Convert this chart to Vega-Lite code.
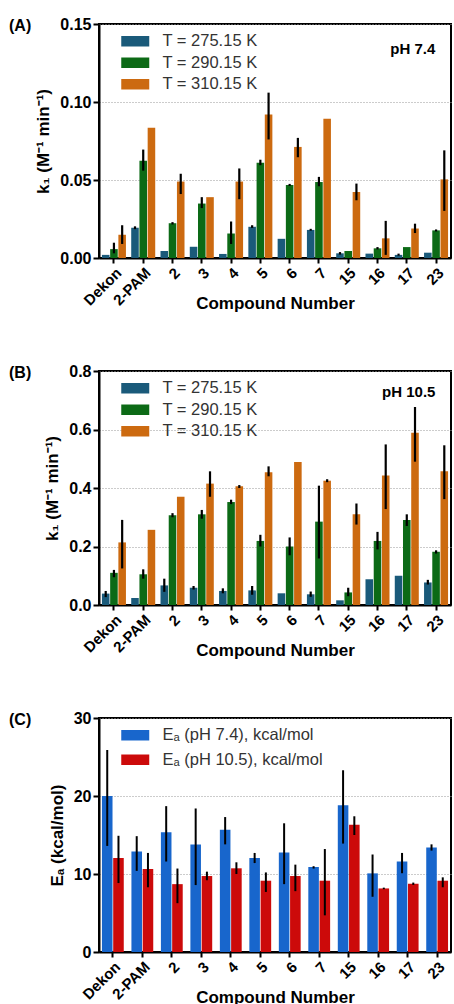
{
  "$schema": "https://vega.github.io/schema/vega-lite/v6.json",
  "padding": {"left": 8, "top": 15, "right": 0, "bottom": 0},
  "background": "white",
  "spacing": 49,
  "config": {
    "font": "Liberation Sans",
    "view": {"stroke": "black", "strokeWidth": 2},
    "axis": {
      "domainColor": "black", "domainWidth": 2, "tickColor": "black", "tickWidth": 2,
      "labelColor": "black", "titleColor": "black",
      "labelFont": "Liberation Sans", "titleFont": "Liberation Sans",
      "labelFontWeight": "bold", "titleFontWeight": "bold"
    },
    "axisX": {"labelAngle": -45, "labelFontSize": 15, "titleFontSize": 17, "tickSize": 5, "labelPadding": 2, "titlePadding": -13, "grid": false},
    "axisY": {"labelFontSize": 16, "titleFontSize": 17, "titlePadding": 7, "labelPadding": 2, "grid": true, "gridDash": [1, 2], "gridColor": "#999999", "gridWidth": 1},
    "legend": {
      "title": null, "orient": "none", "legendX": 28, "legendY": 9, "padding": 0,
      "symbolType": "M-2,-0.75H2V0.75H-2Z", "symbolSize": 196, "symbolStrokeWidth": 0,
      "labelFontSize": 16.5, "labelFont": "Liberation Sans", "labelFontWeight": "normal",
      "labelOffset": 19, "rowPadding": 4.5, "labelColor": "#333333", "labelLimit": 400
    },
    "title": {"anchor": "start", "frame": "group", "dx": -90, "offset": -18, "fontSize": 16, "fontWeight": "bold", "font": "Liberation Sans", "color": "black"}
  },
  "datasets": {
    "A": [
      {"c": "Dekon", "s": "T = 275.15 K", "v": 0.002, "lo": null, "hi": null},
      {"c": "Dekon", "s": "T = 290.15 K", "v": 0.0057, "lo": 0.003, "hi": 0.0098},
      {"c": "Dekon", "s": "T = 310.15 K", "v": 0.0149, "lo": 0.009, "hi": 0.021},
      {"c": "2-PAM", "s": "T = 275.15 K", "v": 0.0194, "lo": 0.0185, "hi": 0.0203},
      {"c": "2-PAM", "s": "T = 290.15 K", "v": 0.0624, "lo": 0.056, "hi": 0.0695},
      {"c": "2-PAM", "s": "T = 310.15 K", "v": 0.0835, "lo": null, "hi": null},
      {"c": "2", "s": "T = 275.15 K", "v": 0.0045, "lo": null, "hi": null},
      {"c": "2", "s": "T = 290.15 K", "v": 0.0223, "lo": 0.0215, "hi": 0.023},
      {"c": "2", "s": "T = 310.15 K", "v": 0.049, "lo": 0.041, "hi": 0.054},
      {"c": "3", "s": "T = 275.15 K", "v": 0.0072, "lo": null, "hi": null},
      {"c": "3", "s": "T = 290.15 K", "v": 0.0349, "lo": 0.032, "hi": 0.039},
      {"c": "3", "s": "T = 310.15 K", "v": 0.039, "lo": null, "hi": null},
      {"c": "4", "s": "T = 275.15 K", "v": 0.0026, "lo": null, "hi": null},
      {"c": "4", "s": "T = 290.15 K", "v": 0.0157, "lo": 0.009, "hi": 0.0234},
      {"c": "4", "s": "T = 310.15 K", "v": 0.049, "lo": 0.0377, "hi": 0.0574},
      {"c": "5", "s": "T = 275.15 K", "v": 0.02, "lo": 0.0193, "hi": 0.021},
      {"c": "5", "s": "T = 290.15 K", "v": 0.061, "lo": 0.0595, "hi": 0.063},
      {"c": "5", "s": "T = 310.15 K", "v": 0.092, "lo": 0.076, "hi": 0.106},
      {"c": "6", "s": "T = 275.15 K", "v": 0.0123, "lo": null, "hi": null},
      {"c": "6", "s": "T = 290.15 K", "v": 0.0468, "lo": 0.0462, "hi": 0.0475},
      {"c": "6", "s": "T = 310.15 K", "v": 0.0712, "lo": 0.0646, "hi": 0.077},
      {"c": "7", "s": "T = 275.15 K", "v": 0.018, "lo": 0.0175, "hi": 0.0187},
      {"c": "7", "s": "T = 290.15 K", "v": 0.0487, "lo": 0.046, "hi": 0.052},
      {"c": "7", "s": "T = 310.15 K", "v": 0.0893, "lo": null, "hi": null},
      {"c": "15", "s": "T = 275.15 K", "v": 0.003, "lo": 0.0022, "hi": 0.0038},
      {"c": "15", "s": "T = 290.15 K", "v": 0.0045, "lo": null, "hi": null},
      {"c": "15", "s": "T = 310.15 K", "v": 0.0423, "lo": 0.037, "hi": 0.0477},
      {"c": "16", "s": "T = 275.15 K", "v": 0.0028, "lo": null, "hi": null},
      {"c": "16", "s": "T = 290.15 K", "v": 0.0062, "lo": 0.0055, "hi": 0.007},
      {"c": "16", "s": "T = 310.15 K", "v": 0.0126, "lo": 0.002, "hi": 0.0238},
      {"c": "17", "s": "T = 275.15 K", "v": 0.002, "lo": 0.0015, "hi": 0.0028},
      {"c": "17", "s": "T = 290.15 K", "v": 0.007, "lo": null, "hi": null},
      {"c": "17", "s": "T = 310.15 K", "v": 0.0189, "lo": 0.016, "hi": 0.022},
      {"c": "23", "s": "T = 275.15 K", "v": 0.0034, "lo": null, "hi": null},
      {"c": "23", "s": "T = 290.15 K", "v": 0.0177, "lo": 0.017, "hi": 0.0183},
      {"c": "23", "s": "T = 310.15 K", "v": 0.0504, "lo": 0.0302, "hi": 0.069}
    ],
    "B": [
      {"c": "Dekon", "s": "T = 275.15 K", "v": 0.039, "lo": 0.027, "hi": 0.048},
      {"c": "Dekon", "s": "T = 290.15 K", "v": 0.11, "lo": 0.095, "hi": 0.12},
      {"c": "Dekon", "s": "T = 310.15 K", "v": 0.214, "lo": 0.125, "hi": 0.291},
      {"c": "2-PAM", "s": "T = 275.15 K", "v": 0.024, "lo": null, "hi": null},
      {"c": "2-PAM", "s": "T = 290.15 K", "v": 0.105, "lo": 0.09, "hi": 0.122},
      {"c": "2-PAM", "s": "T = 310.15 K", "v": 0.257, "lo": null, "hi": null},
      {"c": "2", "s": "T = 275.15 K", "v": 0.067, "lo": 0.045, "hi": 0.09},
      {"c": "2", "s": "T = 290.15 K", "v": 0.307, "lo": 0.3, "hi": 0.314},
      {"c": "2", "s": "T = 310.15 K", "v": 0.37, "lo": null, "hi": null},
      {"c": "3", "s": "T = 275.15 K", "v": 0.059, "lo": 0.053, "hi": 0.065},
      {"c": "3", "s": "T = 290.15 K", "v": 0.31, "lo": 0.295, "hi": 0.325},
      {"c": "3", "s": "T = 310.15 K", "v": 0.415, "lo": 0.37, "hi": 0.457},
      {"c": "4", "s": "T = 275.15 K", "v": 0.048, "lo": 0.04, "hi": 0.057},
      {"c": "4", "s": "T = 290.15 K", "v": 0.352, "lo": 0.345, "hi": 0.36},
      {"c": "4", "s": "T = 310.15 K", "v": 0.406, "lo": 0.4, "hi": 0.41},
      {"c": "5", "s": "T = 275.15 K", "v": 0.05, "lo": 0.035, "hi": 0.065},
      {"c": "5", "s": "T = 290.15 K", "v": 0.219, "lo": 0.2, "hi": 0.24},
      {"c": "5", "s": "T = 310.15 K", "v": 0.454, "lo": 0.44, "hi": 0.474},
      {"c": "6", "s": "T = 275.15 K", "v": 0.04, "lo": null, "hi": null},
      {"c": "6", "s": "T = 290.15 K", "v": 0.2, "lo": 0.17, "hi": 0.231},
      {"c": "6", "s": "T = 310.15 K", "v": 0.489, "lo": null, "hi": null},
      {"c": "7", "s": "T = 275.15 K", "v": 0.0366, "lo": 0.028, "hi": 0.046},
      {"c": "7", "s": "T = 290.15 K", "v": 0.285, "lo": 0.159, "hi": 0.408},
      {"c": "7", "s": "T = 310.15 K", "v": 0.425, "lo": 0.42, "hi": 0.43},
      {"c": "15", "s": "T = 275.15 K", "v": 0.016, "lo": null, "hi": null},
      {"c": "15", "s": "T = 290.15 K", "v": 0.043, "lo": 0.03, "hi": 0.059},
      {"c": "15", "s": "T = 310.15 K", "v": 0.31, "lo": 0.275, "hi": 0.347},
      {"c": "16", "s": "T = 275.15 K", "v": 0.088, "lo": null, "hi": null},
      {"c": "16", "s": "T = 290.15 K", "v": 0.219, "lo": 0.19, "hi": 0.25},
      {"c": "16", "s": "T = 310.15 K", "v": 0.443, "lo": 0.328, "hi": 0.549},
      {"c": "17", "s": "T = 275.15 K", "v": 0.1, "lo": null, "hi": null},
      {"c": "17", "s": "T = 290.15 K", "v": 0.291, "lo": 0.27, "hi": 0.31},
      {"c": "17", "s": "T = 310.15 K", "v": 0.589, "lo": 0.49, "hi": 0.677},
      {"c": "23", "s": "T = 275.15 K", "v": 0.077, "lo": 0.07, "hi": 0.086},
      {"c": "23", "s": "T = 290.15 K", "v": 0.182, "lo": 0.176, "hi": 0.187},
      {"c": "23", "s": "T = 310.15 K", "v": 0.457, "lo": 0.362, "hi": 0.546}
    ],
    "C": [
      {"c": "Dekon", "s": "Eₐ (pH 7.4), kcal/mol", "v": 20.0, "lo": 13.6, "hi": 25.9},
      {"c": "Dekon", "s": "Eₐ (pH 10.5), kcal/mol", "v": 12.06, "lo": 8.84, "hi": 14.9},
      {"c": "2-PAM", "s": "Eₐ (pH 7.4), kcal/mol", "v": 12.87, "lo": 10.4, "hi": 14.85},
      {"c": "2-PAM", "s": "Eₐ (pH 10.5), kcal/mol", "v": 10.64, "lo": 8.3, "hi": 12.7},
      {"c": "2", "s": "Eₐ (pH 7.4), kcal/mol", "v": 15.36, "lo": 11.6, "hi": 18.7},
      {"c": "2", "s": "Eₐ (pH 10.5), kcal/mol", "v": 8.7, "lo": 6.26, "hi": 10.7},
      {"c": "3", "s": "Eₐ (pH 7.4), kcal/mol", "v": 13.77, "lo": 8.58, "hi": 18.4},
      {"c": "3", "s": "Eₐ (pH 10.5), kcal/mol", "v": 9.74, "lo": 9.2, "hi": 10.3},
      {"c": "4", "s": "Eₐ (pH 7.4), kcal/mol", "v": 15.66, "lo": 13.8, "hi": 17.3},
      {"c": "4", "s": "Eₐ (pH 10.5), kcal/mol", "v": 10.73, "lo": 10.0, "hi": 11.5},
      {"c": "5", "s": "Eₐ (pH 7.4), kcal/mol", "v": 12.06, "lo": 11.4, "hi": 12.7},
      {"c": "5", "s": "Eₐ (pH 10.5), kcal/mol", "v": 9.14, "lo": 7.7, "hi": 10.2},
      {"c": "6", "s": "Eₐ (pH 7.4), kcal/mol", "v": 12.75, "lo": 8.7, "hi": 16.5},
      {"c": "6", "s": "Eₐ (pH 10.5), kcal/mol", "v": 9.74, "lo": 7.8, "hi": 11.2},
      {"c": "7", "s": "Eₐ (pH 7.4), kcal/mol", "v": 10.9, "lo": 10.7, "hi": 11.0},
      {"c": "7", "s": "Eₐ (pH 10.5), kcal/mol", "v": 9.14, "lo": 4.7, "hi": 13.2},
      {"c": "15", "s": "Eₐ (pH 7.4), kcal/mol", "v": 18.8, "lo": 13.9, "hi": 23.3},
      {"c": "15", "s": "Eₐ (pH 10.5), kcal/mol", "v": 16.3, "lo": 15.0, "hi": 17.4},
      {"c": "16", "s": "Eₐ (pH 7.4), kcal/mol", "v": 10.08, "lo": 7.08, "hi": 12.5},
      {"c": "16", "s": "Eₐ (pH 10.5), kcal/mol", "v": 8.15, "lo": 8.05, "hi": 8.25},
      {"c": "17", "s": "Eₐ (pH 7.4), kcal/mol", "v": 11.6, "lo": 10.1, "hi": 12.7},
      {"c": "17", "s": "Eₐ (pH 10.5), kcal/mol", "v": 8.75, "lo": 8.6, "hi": 8.9},
      {"c": "23", "s": "Eₐ (pH 7.4), kcal/mol", "v": 13.4, "lo": 13.0, "hi": 13.8},
      {"c": "23", "s": "Eₐ (pH 10.5), kcal/mol", "v": 9.14, "lo": 8.3, "hi": 9.57}
    ]
  },
  "resolve": {"scale": {"color": "independent", "x": "independent", "y": "independent", "xOffset": "independent"}, "legend": {"color": "independent"}},
  "vconcat": [
    {
      "width": 352, "height": 234,
      "title": {"text": "(A)"},
      "data": {"name": "A"},
      "layer": [
        {
          "mark": {"type": "bar"},
          "encoding": {
            "x": {"field": "c", "type": "nominal", "sort": ["Dekon", "2-PAM", "2", "3", "4", "5", "6", "7", "15", "16", "17", "23"], "scale": {"paddingInner": 0.18, "paddingOuter": 0.1}, "axis": {"title": "Compound Number"}},
            "xOffset": {"field": "s", "type": "nominal", "sort": ["T = 275.15 K", "T = 290.15 K", "T = 310.15 K"], "scale": {"type": "band", "paddingInner": 0.08, "paddingOuter": 0}},
            "y": {"field": "v", "type": "quantitative", "scale": {"domain": [0, 0.15], "nice": false, "zero": true},
              "axis": {"title": "k₁ (M⁻¹ min⁻¹)", "values": [0, 0.025, 0.05, 0.075, 0.1, 0.125, 0.15], "format": ".2f",
                "labelExpr": "round(datum.value*1000) % 50 != 0 ? '' : datum.label",
                "tickSize": {"condition": {"test": "round(datum.value*1000) % 50 != 0", "value": 3}, "value": 6},
                "gridOpacity": {"condition": {"test": "round(datum.value*1000) % 50 != 0", "value": 0}, "value": 1}}},
            "color": {"field": "s", "type": "nominal", "scale": {"domain": ["T = 275.15 K", "T = 290.15 K", "T = 310.15 K"], "range": ["#1a5a7a", "#0c6a16", "#cc6a10"]}}
          }
        },
        {
          "transform": [{"filter": "isValid(datum.lo)"}],
          "mark": {"type": "rule", "color": "black", "strokeWidth": 2.2},
          "encoding": {
            "x": {"field": "c", "type": "nominal", "sort": ["Dekon", "2-PAM", "2", "3", "4", "5", "6", "7", "15", "16", "17", "23"]},
            "xOffset": {"field": "s", "type": "nominal", "sort": ["T = 275.15 K", "T = 290.15 K", "T = 310.15 K"], "scale": {"type": "band"}},
            "y": {"field": "lo", "type": "quantitative"},
            "y2": {"field": "hi"}
          }
        },
        {
          "data": {"values": [{}]},
          "mark": {"type": "text", "fontSize": 15, "fontWeight": "bold", "font": "Liberation Sans", "color": "black", "baseline": "alphabetic", "dx": 6},
          "encoding": {"x": {"datum": "17"}, "y": {"datum": 0.131}, "text": {"value": "pH 7.4"}}
        }
      ]
    },
    {
      "width": 352, "height": 234,
      "title": {"text": "(B)"},
      "data": {"name": "B"},
      "layer": [
        {
          "mark": {"type": "bar"},
          "encoding": {
            "x": {"field": "c", "type": "nominal", "sort": ["Dekon", "2-PAM", "2", "3", "4", "5", "6", "7", "15", "16", "17", "23"], "scale": {"paddingInner": 0.18, "paddingOuter": 0.1}, "axis": {"title": "Compound Number"}},
            "xOffset": {"field": "s", "type": "nominal", "sort": ["T = 275.15 K", "T = 290.15 K", "T = 310.15 K"], "scale": {"type": "band", "paddingInner": 0.08, "paddingOuter": 0}},
            "y": {"field": "v", "type": "quantitative", "scale": {"domain": [0, 0.8], "nice": false, "zero": true},
              "axis": {"title": "k₁ (M⁻¹ min⁻¹)", "values": [0, 0.1, 0.2, 0.3, 0.4, 0.5, 0.6, 0.7, 0.8], "format": ".1f",
                "labelExpr": "round(datum.value*10) % 2 == 1 ? '' : datum.label",
                "tickSize": {"condition": {"test": "round(datum.value*10) % 2 == 1", "value": 3}, "value": 6},
                "gridOpacity": {"condition": {"test": "round(datum.value*10) % 2 == 1", "value": 0}, "value": 1}}},
            "color": {"field": "s", "type": "nominal", "scale": {"domain": ["T = 275.15 K", "T = 290.15 K", "T = 310.15 K"], "range": ["#1a5a7a", "#0c6a16", "#cc6a10"]}}
          }
        },
        {
          "transform": [{"filter": "isValid(datum.lo)"}],
          "mark": {"type": "rule", "color": "black", "strokeWidth": 2.2},
          "encoding": {
            "x": {"field": "c", "type": "nominal", "sort": ["Dekon", "2-PAM", "2", "3", "4", "5", "6", "7", "15", "16", "17", "23"]},
            "xOffset": {"field": "s", "type": "nominal", "sort": ["T = 275.15 K", "T = 290.15 K", "T = 310.15 K"], "scale": {"type": "band"}},
            "y": {"field": "lo", "type": "quantitative"},
            "y2": {"field": "hi"}
          }
        },
        {
          "data": {"values": [{}]},
          "mark": {"type": "text", "fontSize": 15, "fontWeight": "bold", "font": "Liberation Sans", "color": "black", "baseline": "alphabetic", "dx": 2},
          "encoding": {"x": {"datum": "17"}, "y": {"datum": 0.711}, "text": {"value": "pH 10.5"}}
        }
      ]
    },
    {
      "width": 352, "height": 234,
      "title": {"text": "(C)"},
      "data": {"name": "C"},
      "layer": [
        {
          "mark": {"type": "bar"},
          "encoding": {
            "x": {"field": "c", "type": "nominal", "sort": ["Dekon", "2-PAM", "2", "3", "4", "5", "6", "7", "15", "16", "17", "23"], "scale": {"paddingInner": 0.26, "paddingOuter": 0.1}, "axis": {"title": "Compound Number"}},
            "xOffset": {"field": "s", "type": "nominal", "sort": ["Eₐ (pH 7.4), kcal/mol", "Eₐ (pH 10.5), kcal/mol"], "scale": {"type": "band", "paddingInner": 0.06, "paddingOuter": 0}},
            "y": {"field": "v", "type": "quantitative", "scale": {"domain": [0, 30], "nice": false, "zero": true},
              "axis": {"title": "Eₐ (kcal/mol)", "values": [0, 5, 10, 15, 20, 25, 30], "format": "d",
                "labelExpr": "datum.value % 10 != 0 ? '' : datum.label",
                "tickSize": {"condition": {"test": "datum.value % 10 != 0", "value": 3}, "value": 6},
                "gridOpacity": {"condition": {"test": "datum.value % 10 != 0", "value": 0}, "value": 1}}},
            "color": {"field": "s", "type": "nominal", "scale": {"domain": ["Eₐ (pH 7.4), kcal/mol", "Eₐ (pH 10.5), kcal/mol"], "range": ["#1866cc", "#cc0a0a"]}, "legend": {"rowPadding": 7.5}}
          }
        },
        {
          "mark": {"type": "rule", "color": "black", "strokeWidth": 2},
          "encoding": {
            "x": {"field": "c", "type": "nominal", "sort": ["Dekon", "2-PAM", "2", "3", "4", "5", "6", "7", "15", "16", "17", "23"]},
            "xOffset": {"field": "s", "type": "nominal", "sort": ["Eₐ (pH 7.4), kcal/mol", "Eₐ (pH 10.5), kcal/mol"], "scale": {"type": "band"}},
            "y": {"field": "lo", "type": "quantitative"},
            "y2": {"field": "hi"}
          }
        }
      ]
    }
  ]
}
